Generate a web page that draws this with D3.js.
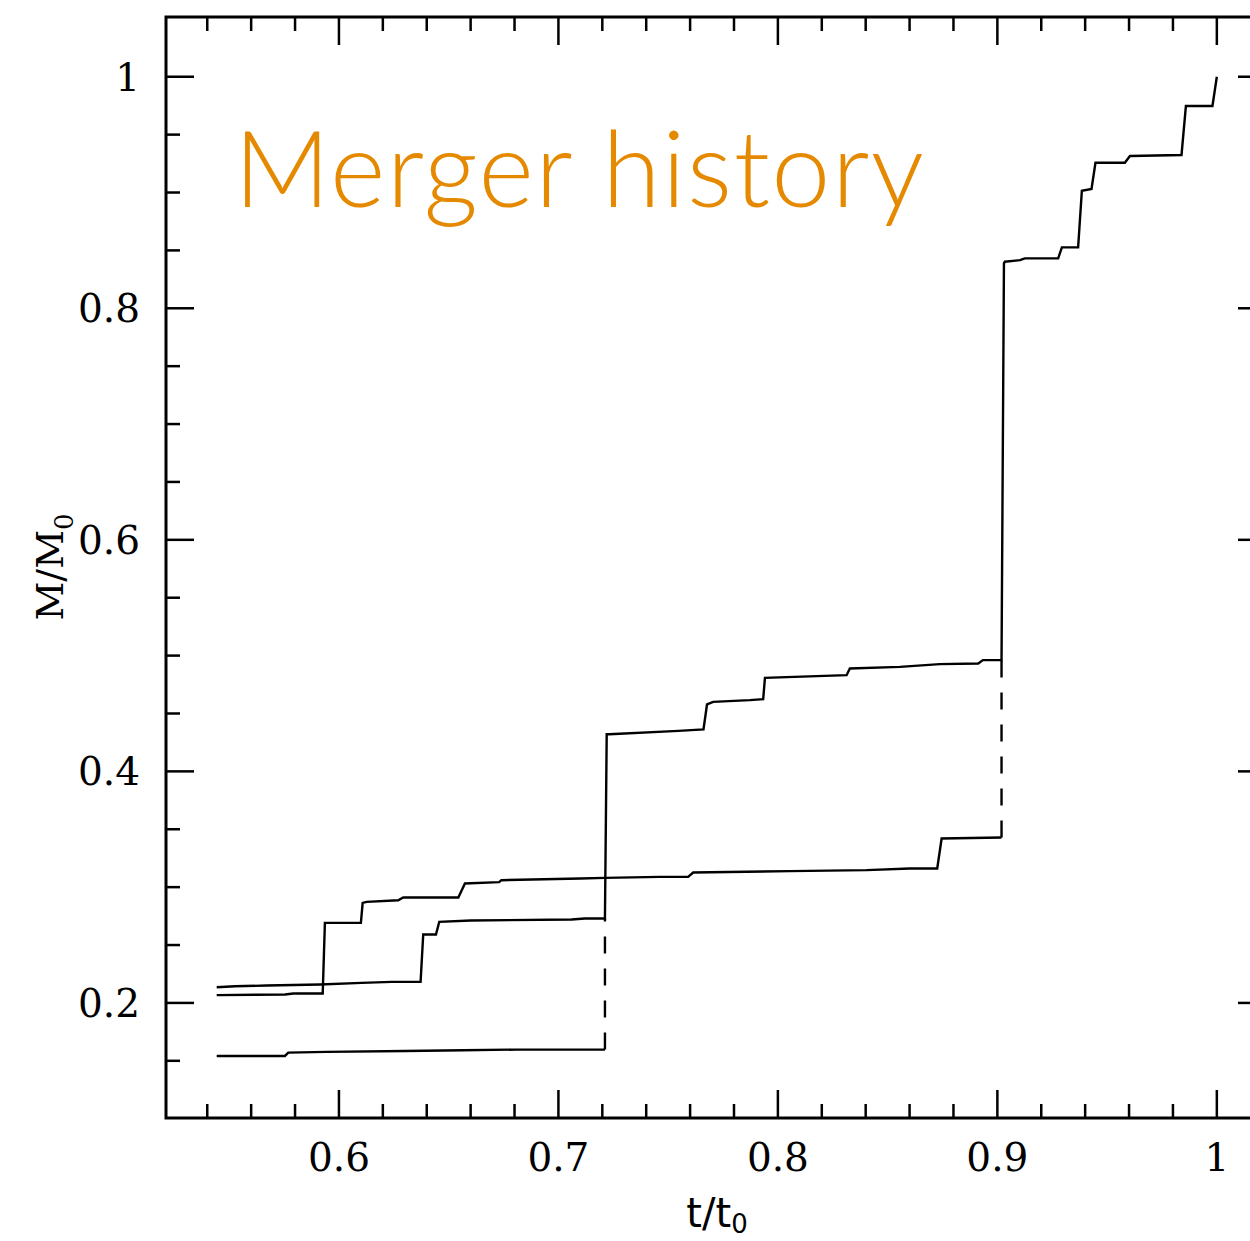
<!DOCTYPE html>
<html>
<head>
<meta charset="utf-8">
<script src="https://cdn.jsdelivr.net/npm/d3@7"></script>
<style>
  html, body { margin: 0; padding: 0; background: #fff; overflow: hidden; }
  svg { display: block; }
</style>
</head>
<body>
<svg id="chart" width="1250" height="1241"></svg>
<script>
// ---------------- data (t/t0, M/M0) ----------------
const branchLow = [
  [0.5443,0.1542],[0.5754,0.1542],[0.5769,0.1571],[0.5944,0.1577],[0.6301,0.1585],
  [0.6566,0.1591],[0.6810,0.1597],[0.7212,0.1597]
];
const branchMain = [
  [0.5443,0.2136],[0.5526,0.2144],[0.5671,0.2150],[0.5913,0.2159],[0.6103,0.2173],
  [0.6240,0.2182],[0.6372,0.2182],[0.6384,0.2591],[0.6442,0.2591],[0.6457,0.2700],
  [0.6600,0.2712],[0.7060,0.2720],[0.7120,0.2729],[0.7212,0.2729],[0.7220,0.4321],
  [0.7232,0.4321],[0.7547,0.4350],[0.7661,0.4362],[0.7677,0.4578],[0.7705,0.4600],
  [0.7872,0.4615],[0.7933,0.4624],[0.7941,0.4808],[0.8313,0.4831],[0.8328,0.4889],
  [0.8556,0.4903],[0.8738,0.4926],[0.8913,0.4932],[0.8934,0.4961],[0.9019,0.4961],
  [0.9030,0.8388],[0.9034,0.8402],[0.9103,0.8416],[0.9125,0.8431],[0.9277,0.8431],
  [0.9294,0.8526],[0.9368,0.8526],[0.9385,0.9015],[0.9429,0.9030],[0.9447,0.9257],
  [0.9581,0.9257],[0.9604,0.9315],[0.9839,0.9324],[0.9859,0.9747],[0.9980,0.9747],
  [1.0000,1.0000]
];
const branchSecond = [
  [0.5443,0.2067],[0.5754,0.2073],[0.5792,0.2081],[0.5926,0.2081],[0.5936,0.2691],
  [0.6100,0.2691],[0.6108,0.2864],[0.6126,0.2873],[0.6270,0.2887],[0.6293,0.2911],
  [0.6544,0.2911],[0.6574,0.3032],[0.6730,0.3043],[0.6740,0.3060],[0.7100,0.3075],
  [0.7212,0.3080],[0.7462,0.3089],[0.7591,0.3089],[0.7614,0.3126],[0.8055,0.3138],
  [0.8404,0.3147],[0.8601,0.3161],[0.8726,0.3161],[0.8746,0.3420],[0.9019,0.3429]
];
// merger connectors (dashed)
const mergers = [
  [[0.7212,0.1597],[0.7212,0.2729]],
  [[0.9019,0.3429],[0.9019,0.4961]]
];
const xMajorTicks = [0.6, 0.7, 0.8, 0.9, 1.0];
const xTickLabels = ["0.6", "0.7", "0.8", "0.9", "1"];
const yMajorTicks = [0.2, 0.4, 0.6, 0.8, 1.0];
const yTickLabels = ["0.2", "0.4", "0.6", "0.8", "1"];
const xDomain = [0.5212, 1.0224];
const yDomain = [0.1006, 1.0516];
const xMinorStep = 0.02, yMinorStep = 0.05;
const titleText = "Merger history";

// ---------------- layout ----------------
const L = 166, R = 1266, T = 17, B = 1118;
const svg = d3.select("#chart");
const x = d3.scaleLinear().domain(xDomain).range([L, R]);
const y = d3.scaleLinear().domain(yDomain).range([B, T]);

const major = 28, minor = 14;
const serif = "'DejaVu Serif', serif";

const g = svg.append("g");

// frame
g.append("rect").attr("x", L).attr("y", T).attr("width", R - L).attr("height", B - T)
  .attr("fill", "none").attr("stroke", "#000").attr("stroke-width", 3);

// ticks
function range(lo, hi, step) {
  const out = [];
  const n0 = Math.ceil(lo / step - 1e-9), n1 = Math.floor(hi / step + 1e-9);
  for (let n = n0; n <= n1; n++) out.push(+(n * step).toFixed(4));
  return out;
}
const isMajor = (v, arr) => arr.some(m => Math.abs(m - v) < 1e-6);
const xt = range(xDomain[0], xDomain[1], xMinorStep).filter(v => Math.abs(x(v) - L) > 3 && Math.abs(x(v) - R) > 3);
const yt = range(yDomain[0], yDomain[1], yMinorStep).filter(v => Math.abs(y(v) - T) > 3 && Math.abs(y(v) - B) > 3);

const tk = g.append("g").attr("stroke", "#000").attr("stroke-width", 2.5);
xt.forEach(v => {
  const len = isMajor(v, xMajorTicks) ? major : minor;
  tk.append("line").attr("x1", x(v)).attr("x2", x(v)).attr("y1", B).attr("y2", B - len);
  tk.append("line").attr("x1", x(v)).attr("x2", x(v)).attr("y1", T).attr("y2", T + len);
});
yt.forEach(v => {
  const len = isMajor(v, yMajorTicks) ? major : minor;
  tk.append("line").attr("y1", y(v)).attr("y2", y(v)).attr("x1", L).attr("x2", L + len);
  tk.append("line").attr("y1", y(v)).attr("y2", y(v)).attr("x1", R).attr("x2", R - len);
});

// tick labels
g.selectAll("text.xl").data(xMajorTicks).enter().append("text")
  .attr("x", d => x(d)).attr("y", 1171)
  .attr("text-anchor", "middle").attr("font-family", serif).attr("font-size", 39)
  .text((d, i) => xTickLabels[i]);
g.selectAll("text.yl").data(yMajorTicks).enter().append("text")
  .attr("x", 140).attr("y", d => y(d) + 14)
  .attr("text-anchor", "end").attr("font-family", serif).attr("font-size", 39)
  .text((d, i) => yTickLabels[i]);

// axis titles
const xt1 = g.append("text").attr("x", 717).attr("y", 1227).attr("text-anchor", "middle")
  .attr("font-family", "'DejaVu Sans', sans-serif").attr("font-size", 40);
xt1.append("tspan").text("t/t");
xt1.append("tspan").attr("font-size", 26).attr("dy", 6).text("0");

const yt1 = g.append("text").attr("transform", "translate(63,567) rotate(-90)")
  .attr("text-anchor", "middle").attr("font-family", serif).attr("font-size", 38);
yt1.append("tspan").text("M/M");
yt1.append("tspan").attr("font-size", 26).attr("dy", 10).text("0");

// data lines
const line = d3.line().x(d => x(d[0])).y(d => y(d[1]));
[branchLow, branchMain, branchSecond].forEach(s => {
  g.append("path").attr("d", line(s)).attr("fill", "none")
    .attr("stroke", "#000").attr("stroke-width", 2.4).attr("stroke-linejoin", "miter");
});
mergers.forEach(s => {
  g.append("path").attr("d", line(s)).attr("fill", "none")
    .attr("stroke", "#000").attr("stroke-width", 2.4).attr("stroke-dasharray", "17,15");
});

// title
g.append("text").attr("x", 234).attr("y", 207)
  .attr("font-family", "Lato, 'Open Sans', sans-serif").attr("font-weight", 300)
  .attr("font-size", 106).attr("fill", "#E58A00")
  .attr("textLength", 690).attr("lengthAdjust", "spacing")
  .text(titleText);
</script>
</body>
</html>
